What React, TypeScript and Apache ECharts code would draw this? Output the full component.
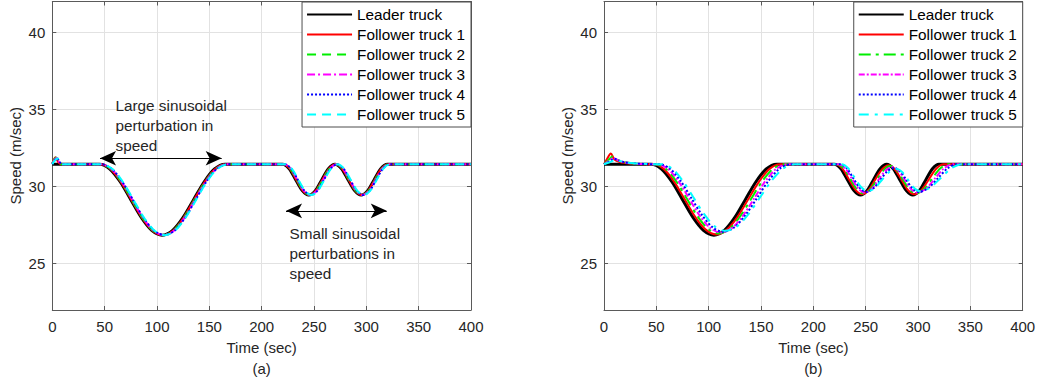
import React, { useEffect, useRef } from "react";
import * as echarts from "echarts";

// ---------- tick values ----------
const speedTicks = [25, 30, 35, 40];
const truckNames = [
  "Leader truck",
  "Follower truck 1",
  "Follower truck 2",
  "Follower truck 3",
  "Follower truck 4",
  "Follower truck 5",
];

// ---------- leader truck (same in both panels) ----------
const leaderTime = [
  0, 40, 45, 55, 65, 75, 85, 95, 105, 115, 125, 135, 145, 155, 165, 170,
  215, 220, 226.3, 232.5, 238.8, 245, 251.3, 257.5, 263.8, 270, 276.3, 282.5,
  288.8, 295, 301.3, 307.5, 313.8, 320, 325, 400,
];
const leaderSpeed = [
  31.45, 31.45, 31.45, 31.14, 30.3, 29.15, 28, 27.16, 26.85, 27.16, 28, 29.15,
  30.3, 31.14, 31.45, 31.45, 31.45, 31.45, 31.16, 30.45, 29.74, 29.45, 29.74,
  30.45, 31.16, 31.45, 31.16, 30.45, 29.74, 29.45, 29.74, 30.45, 31.16, 31.45,
  31.45, 31.45,
];

// ---------- panel (a) followers: start-up bump ----------
const followerA1StartTime = [0, 3, 5.5, 8];
const followerA1StartSpeed = [31.5, 31.9, 31.6, 31.45];
const followerA2StartTime = [0, 3.5, 6, 8.5];
const followerA2StartSpeed = [31.5, 31.88, 31.6, 31.45];
const followerA3StartTime = [0, 4, 6.5, 9];
const followerA3StartSpeed = [31.48, 31.86, 31.6, 31.45];
const followerA4StartTime = [0, 4.5, 7, 9.5];
const followerA4StartSpeed = [31.47, 31.84, 31.6, 31.45];
const followerA5StartTime = [0, 5, 7.5, 10];
const followerA5StartSpeed = [31.46, 31.82, 31.6, 31.45];

// ---------- panel (a) followers: perturbation (speeds follow the leader's, slightly later) ----------
const followerASpeed = [
  31.45, 31.45, 31.14, 30.3, 29.15, 28, 27.16, 26.85, 27.16, 28, 29.15, 30.3,
  31.14, 31.45, 31.45, 31.45, 31.45, 31.16, 30.45, 29.74, 29.45, 29.74, 30.45,
  31.16, 31.45, 31.16, 30.45, 29.74, 29.45, 29.74, 30.45, 31.16, 31.45, 31.45,
  31.45,
];
const followerA1Time = [
  40.5, 45.5, 55.5, 65.5, 75.5, 85.5, 95.5, 105.5, 115.5, 125.5, 135.5, 145.5,
  155.5, 165.5, 170.5, 215.5, 220.5, 226.8, 233, 239.3, 245.5, 251.8, 258,
  264.3, 270.5, 276.8, 283, 289.3, 295.5, 301.8, 308, 314.3, 320.5, 325.5, 400,
];
const followerA2Time = [
  41, 46, 56, 66, 76, 86, 96, 106, 116, 126, 136, 146, 156, 166, 171, 216, 221,
  227.3, 233.5, 239.8, 246, 252.3, 258.5, 264.8, 271, 277.3, 283.5, 289.8, 296,
  302.3, 308.5, 314.8, 321, 326, 400,
];
const followerA3Time = [
  41.5, 46.5, 56.5, 66.5, 76.5, 86.5, 96.5, 106.5, 116.5, 126.5, 136.5, 146.5,
  156.5, 166.5, 171.5, 216.5, 221.5, 227.8, 234, 240.3, 246.5, 252.8, 259,
  265.3, 271.5, 277.8, 284, 290.3, 296.5, 302.8, 309, 315.3, 321.5, 326.5, 400,
];
const followerA4Time = [
  42, 47, 57, 67, 77, 87, 97, 107, 117, 127, 137, 147, 157, 167, 172, 217, 222,
  228.3, 234.5, 240.8, 247, 253.3, 259.5, 265.8, 272, 278.3, 284.5, 290.8, 297,
  303.3, 309.5, 315.8, 322, 327, 400,
];
const followerA5Time = [
  42.5, 47.5, 57.5, 67.5, 77.5, 87.5, 97.5, 107.5, 117.5, 127.5, 137.5, 147.5,
  157.5, 167.5, 172.5, 217.5, 222.5, 228.8, 235, 241.3, 247.5, 253.8, 260,
  266.3, 272.5, 278.8, 285, 291.3, 297.5, 303.8, 310, 316.3, 322.5, 327.5, 400,
];

// ---------- panel (b) followers: [time, speed] ----------
const followerB1 = [
  [0, 31.45], [3, 31.8], [6.5, 32.15], [10, 31.75], [15, 31.6], [25, 31.5], [35, 31.46], [42, 31.45], [47, 31.45],
  [57, 31.15], [67.1, 30.31], [77.1, 29.18], [87.1, 28.04], [97.2, 27.21], [107.2, 26.9],
  [117.4, 27.21], [127.6, 28.04], [137.8, 29.18], [148, 30.31], [158.2, 31.15], [168.4, 31.45],
  [173.4, 31.45], [216.4, 31.45], [221.4, 31.45],
  [227.7, 31.16], [233.9, 30.48], [240.2, 29.79], [246.4, 29.5],
  [252.8, 29.78], [259.1, 30.45], [265.5, 31.11], [271.8, 31.39],
  [278, 31.11], [284.1, 30.45], [290.3, 29.78], [296.4, 29.5],
  [303.4, 29.79], [310.4, 30.48], [317.4, 31.16], [324.4, 31.45],
  [329.4, 31.45], [400, 31.45],
];
const followerB2 = [
  [0, 31.45], [4, 31.7], [8, 31.95], [12, 31.75], [18, 31.6], [28, 31.5], [38, 31.46], [44, 31.45], [49, 31.45],
  [59.1, 31.15], [69.1, 30.33], [79.2, 29.21], [89.3, 28.08], [99.3, 27.26], [109.4, 26.96],
  [119.8, 27.26], [130.2, 28.08], [140.6, 29.21], [151, 30.33], [161.4, 31.15], [171.8, 31.45],
  [176.8, 31.45], [217.8, 31.45], [222.8, 31.45],
  [229.1, 31.17], [235.3, 30.5], [241.6, 29.83], [247.8, 29.55],
  [254.3, 29.81], [260.7, 30.44], [267.2, 31.07], [273.6, 31.33],
  [279.7, 31.07], [285.7, 30.44], [291.8, 29.81], [297.8, 29.55],
  [305.6, 29.83], [313.3, 30.5], [321.1, 31.17], [328.8, 31.45],
  [333.8, 31.45], [400, 31.45],
];
const followerB3 = [
  [0, 31.45], [4.5, 31.65], [9, 31.85], [13, 31.72], [19, 31.58], [29, 31.5], [40, 31.46], [46, 31.45], [51, 31.45],
  [61.1, 31.15], [71.2, 30.34], [81.3, 29.23], [91.4, 28.12], [101.5, 27.31], [111.6, 27.02],
  [122.2, 27.31], [132.8, 28.12], [143.4, 29.23], [154, 30.34], [164.6, 31.15], [175.2, 31.45],
  [180.2, 31.45], [219.2, 31.45], [224.2, 31.45],
  [230.5, 31.18], [236.7, 30.53], [243, 29.87], [249.2, 29.6],
  [255.8, 29.84], [262.3, 30.44], [268.9, 31.03], [275.4, 31.27],
  [281.4, 31.03], [287.3, 30.44], [293.3, 29.84], [299.2, 29.6],
  [307.7, 29.87], [316.2, 30.53], [324.7, 31.18], [333.2, 31.45],
  [338.2, 31.45], [400, 31.45],
];
const followerB4 = [
  [0, 31.45], [5, 31.62], [10, 31.8], [14, 31.7], [20, 31.57], [30, 31.5], [42, 31.46], [48, 31.45], [53, 31.45],
  [63.1, 31.16], [73.3, 30.36], [83.4, 29.26], [93.5, 28.17], [103.7, 27.36], [113.8, 27.07],
  [124.6, 27.36], [135.4, 28.17], [146.2, 29.26], [157, 30.36], [167.8, 31.16], [178.6, 31.45],
  [183.6, 31.45], [220.6, 31.45], [225.6, 31.45],
  [231.9, 31.19], [238.1, 30.55], [244.4, 29.91], [250.6, 29.65],
  [257.3, 29.88], [263.9, 30.43], [270.6, 30.98], [277.2, 31.21],
  [283.1, 30.98], [288.9, 30.43], [294.8, 29.88], [300.6, 29.65],
  [309.9, 29.91], [319.1, 30.55], [328.4, 31.19], [337.6, 31.45],
  [342.6, 31.45], [400, 31.45],
];
const followerB5 = [
  [0, 31.45], [5.5, 31.58], [11, 31.72], [15, 31.66], [21, 31.56], [31, 31.5], [44, 31.46], [50, 31.45], [55, 31.45],
  [65.2, 31.16], [75.3, 30.37], [85.5, 29.29], [95.7, 28.21], [105.8, 27.42], [116, 27.13],
  [127, 27.42], [138, 28.21], [149, 29.29], [160, 30.37], [171, 31.16], [182, 31.45],
  [187, 31.45], [222, 31.45], [227, 31.45],
  [233.3, 31.19], [239.5, 30.58], [245.8, 29.96], [252, 29.7],
  [258.8, 29.91], [265.5, 30.43], [272.3, 30.94], [279, 31.15],
  [284.8, 30.94], [290.5, 30.43], [296.3, 29.91], [302, 29.7],
  [312, 29.96], [322, 30.58], [332, 31.19], [342, 31.45],
  [347, 31.45], [400, 31.45],
];

// ---------- annotation arrows (time start, time end, speed) ----------
const largeArrow = [45.6, 161.8, 31.84];
const smallArrow = [223.3, 319.5, 28.43];

const FONT = '"Liberation Sans", Arial, Helvetica, sans-serif';
const TEXT = "#262626";
const AXIS = "#5a5a5a";
const GRIDC = "#e2e2e2";

const zip = (t: number[], v: number[]) => t.map((x, i) => [x, v[i]]);

const colors = ["#000000", "#ff0000", "#00ee00", "#ff00ff", "#0000ff", "#00ffff"];
const widths = [3, 2, 2, 2, 2, 2];
const dashA: any[] = ["solid", "solid", [9, 6], [8, 3, 2, 3], [2, 2], [9, 6]];
const dashB: any[] = ["solid", "solid", [12, 5, 3, 5], [6, 2, 2, 2], [2, 2], [10, 6, 3, 6]];

function buildOption() {
  const dataA = [
    zip(leaderTime, leaderSpeed),
    [...zip(followerA1StartTime, followerA1StartSpeed), ...zip(followerA1Time, followerASpeed)],
    [...zip(followerA2StartTime, followerA2StartSpeed), ...zip(followerA2Time, followerASpeed)],
    [...zip(followerA3StartTime, followerA3StartSpeed), ...zip(followerA3Time, followerASpeed)],
    [...zip(followerA4StartTime, followerA4StartSpeed), ...zip(followerA4Time, followerASpeed)],
    [...zip(followerA5StartTime, followerA5StartSpeed), ...zip(followerA5Time, followerASpeed)],
  ];
  const dataB = [
    zip(leaderTime, leaderSpeed),
    followerB1,
    followerB2,
    followerB3,
    followerB4,
    followerB5,
  ];

  const mkX = (gridIndex: number, bottom: boolean, name?: string) => ({
    type: "value",
    gridIndex,
    position: bottom ? "bottom" : "top",
    min: 0,
    max: 400,
    interval: 50,
    name: bottom ? name : undefined,
    nameLocation: "middle",
    nameGap: 30,
    nameTextStyle: { color: TEXT, fontSize: 15, fontFamily: FONT },
    axisLine: { show: true, onZero: false, lineStyle: { color: AXIS, width: 1 } },
    axisTick: { show: true, inside: true, length: 4, lineStyle: { color: AXIS } },
    axisLabel: { show: bottom, color: TEXT, fontSize: 15, fontFamily: FONT, margin: 9 },
    splitLine: { show: bottom, lineStyle: { color: GRIDC, width: 1 } },
  });
  const mkY = (gridIndex: number, left: boolean) => ({
    type: "value",
    gridIndex,
    position: left ? "left" : "right",
    min: 22,
    max: 42,
    name: left ? "Speed (m/sec)" : undefined,
    nameLocation: "middle",
    nameGap: 29,
    nameTextStyle: { color: TEXT, fontSize: 15, fontFamily: FONT },
    axisLine: { show: true, onZero: false, lineStyle: { color: AXIS, width: 1 } },
    axisTick: { show: true, inside: true, length: 4, customValues: speedTicks, lineStyle: { color: AXIS } },
    axisLabel: { show: left, customValues: speedTicks, color: TEXT, fontSize: 15, fontFamily: FONT, margin: 7 },
    splitLine: { show: left, lineStyle: { color: GRIDC, width: 1 } },
  });

  const series: any[] = [];
  truckNames.forEach((n, i) => {
    const s: any = {
      type: "line",
      name: n,
      xAxisIndex: 0,
      yAxisIndex: 0,
      data: dataA[i],
      showSymbol: false,
      symbol: "none",
      smooth: 0.3,
      silent: true,
      z: 2 + i,
      itemStyle: { color: colors[i] },
      lineStyle: { color: colors[i], width: widths[i], type: dashA[i] },
    };
    if (i === 0) {
      s.markLine = {
        silent: true,
        symbol: ["arrow", "arrow"],
        symbolSize: [11, 16],
        label: { show: false },
        lineStyle: { color: "#000", width: 1, type: "solid" },
        z: 20,
        data: [
          [{ coord: [largeArrow[0], largeArrow[2]] }, { coord: [largeArrow[1], largeArrow[2]] }],
          [{ coord: [smallArrow[0], smallArrow[2]] }, { coord: [smallArrow[1], smallArrow[2]] }],
        ],
      };
    }
    series.push(s);
  });
  truckNames.forEach((n, i) => {
    series.push({
      type: "line",
      name: "b|" + n,
      xAxisIndex: 2,
      yAxisIndex: 2,
      data: dataB[i],
      showSymbol: false,
      symbol: "none",
      smooth: 0.3,
      silent: true,
      z: 2 + i,
      itemStyle: { color: colors[i] },
      lineStyle: { color: colors[i], width: widths[i], type: dashB[i] },
    });
  });

  const legendBase = {
    orient: "vertical",
    top: 2,
    itemWidth: 45,
    itemHeight: 14,
    itemGap: 5,
    padding: [5, 6, 5, 4],
    backgroundColor: "#ffffff",
    borderColor: "#4d4d4d",
    borderWidth: 1,
    borderRadius: 0,
    selectedMode: false,
    align: "left",
    itemStyle: { opacity: 0, borderWidth: 0 },
    textStyle: { color: "#000", fontSize: 15.3, fontFamily: FONT },
    z: 10,
  };

  return {
    animation: false,
    backgroundColor: "#ffffff",
    grid: [
      { left: 52.3, top: 1.5, width: 418.7, height: 308.5, outerBoundsMode: "none", containLabel: false },
      { left: 604, top: 1.5, width: 418.7, height: 308.5, outerBoundsMode: "none", containLabel: false },
    ],
    xAxis: [mkX(0, true, "Time (sec)"), mkX(0, false), mkX(1, true, "Time (sec)"), mkX(1, false)],
    yAxis: [mkY(0, true), mkY(0, false), mkY(1, true), mkY(1, false)],
    legend: [
      { ...legendBase, right: 568, data: truckNames },
      {
        ...legendBase,
        right: 16.3,
        data: truckNames.map((n) => "b|" + n),
        formatter: (name: string) => name.replace("b|", ""),
      },
    ],
    graphic: [
      {
        type: "text",
        left: 115.5,
        top: 95,
        z: 30,
        style: {
          text: "Large sinusoidal\nperturbation in\nspeed",
          fill: TEXT,
          font: `15.3px ${FONT}`,
          lineHeight: 20,
        },
      },
      {
        type: "text",
        left: 289.5,
        top: 223,
        z: 30,
        style: {
          text: "Small sinusoidal\nperturbations in\nspeed",
          fill: TEXT,
          font: `15.3px ${FONT}`,
          lineHeight: 20,
        },
      },
      {
        type: "text",
        x: 261.7,
        y: 368.3,
        style: { text: "(a)", fill: TEXT, font: `15px ${FONT}`, align: "center", verticalAlign: "middle" },
      },
      {
        type: "text",
        x: 813.3,
        y: 368.3,
        style: { text: "(b)", fill: TEXT, font: `15px ${FONT}`, align: "center", verticalAlign: "middle" },
      },
    ],
    series,
  };
}

export default function App() {
  const ref = useRef<HTMLDivElement>(null);
  useEffect(() => {
    document.body.style.margin = "0";
    if (!ref.current) return;
    const chart = echarts.init(ref.current, null, { renderer: "svg" });
    chart.setOption(buildOption() as any);
    return () => chart.dispose();
  }, []);
  return <div ref={ref} style={{ width: 1039, height: 381 }} />;
}
